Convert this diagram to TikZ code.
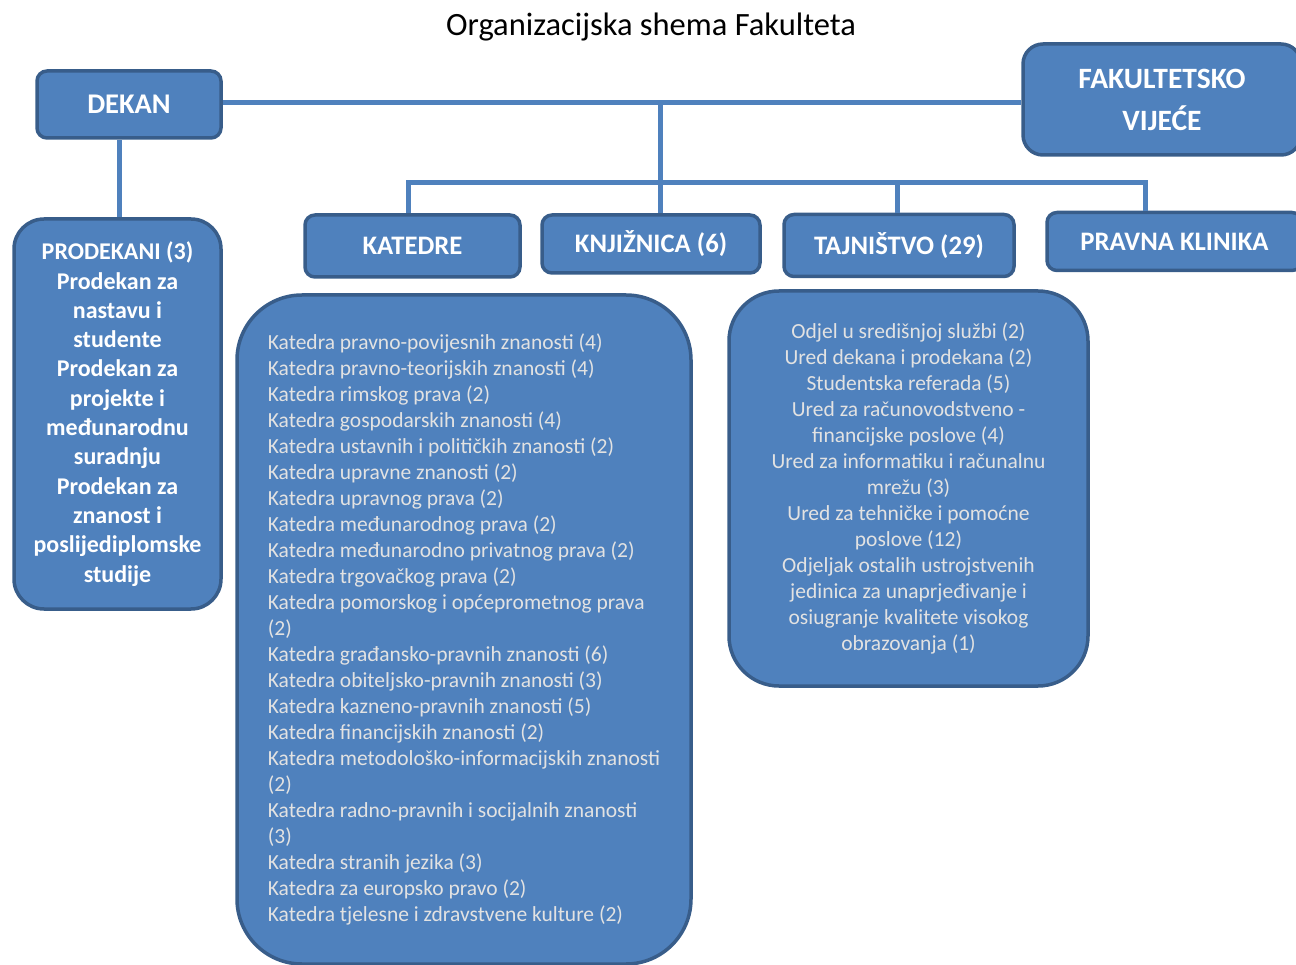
\documentclass[tikz,border=0pt]{standalone}
\usepackage{fontspec}
\setmainfont{Carlito}
\definecolor{unitblue}{HTML}{4F81BD}
\definecolor{unitedge}{HTML}{385D8A}
\definecolor{listgray}{HTML}{E2E2E2}
\begin{document}
\begin{tikzpicture}
  [x=1pt,y=-1pt,
   unit/.style=
     {draw=unitedge,fill=unitblue,line width=3.5pt,rounded corners=10pt,
      text=white,inner sep=0pt,align=center,
      font=\bfseries\fontsize{26.7}{30}\selectfont},
   listbox/.style=
     {draw=unitedge,fill=unitblue,line width=3.5pt,text=listgray,
      inner sep=0pt,font=\fontsize{21.5}{26}\selectfont},
   link/.style=
     {draw=unitblue,line width=5pt,line join=miter}
  ]
  \useasboundingbox (0,0) rectangle (1296,965);
  \node[font=\fontsize{32.5}{38}\selectfont] (title) at (651,27.5)
    {Organizacijska shema Fakulteta};
  \node[unit,minimum width=184pt,minimum height=67pt,
    font=\bfseries\fontsize{28.5}{30}\selectfont] (dekan)
    at (129,104.5) {DEKAN};
  \node[unit,minimum width=278pt,minimum height=111pt,rounded corners=20pt,
    font=\bfseries\fontsize{29.5}{42}\selectfont] (vijece)
    at (1162,99.5) {FAKULTETSKO\\VIJEĆE};
  \node[unit,minimum width=207pt,minimum height=390pt,rounded corners=30pt,
    font=\bfseries\fontsize{24}{29.3}\selectfont] (prodekani)
    at (117.5,414) {PRODEKANI (3)\\Prodekan za\\nastavu i\\studente\\
      Prodekan za\\projekte i\\međunarodnu\\suradnju\\Prodekan za\\
      znanost i\\poslijediplomske\\studije};
  \node[unit,minimum width=215pt,minimum height=62pt] (katedre)
    at (412.5,246) {KATEDRE};
  \node[unit,minimum width=218pt,minimum height=58pt] (knjiznica)
    at (651,244) {KNJIŽNICA (6)};
  \node[unit,minimum width=230pt,minimum height=62pt] (tajnistvo)
    at (899,245.5) {TAJNIŠTVO (29)};
  \node[unit,minimum width=255pt,minimum height=58pt] (klinika)
    at (1174.5,241.5) {PRAVNA KLINIKA};
  \node[listbox,minimum width=454pt,minimum height=669pt,
    rounded corners=65pt,align=left] (katlist)
    at (464,629.5) {Katedra pravno-povijesnih znanosti (4)\\
      Katedra pravno-teorijskih znanosti (4)\\
      Katedra rimskog prava (2)\\
      Katedra gospodarskih znanosti (4)\\
      Katedra ustavnih i političkih znanosti (2)\\
      Katedra upravne znanosti (2)\\
      Katedra upravnog prava (2)\\
      Katedra međunarodnog prava (2)\\
      Katedra međunarodno privatnog prava (2)\\
      Katedra trgovačkog prava (2)\\
      Katedra pomorskog i općeprometnog prava\\
      (2)\\
      Katedra građansko-pravnih znanosti (6)\\
      Katedra obiteljsko-pravnih znanosti (3)\\
      Katedra kazneno-pravnih znanosti (5)\\
      Katedra financijskih znanosti (2)\\
      Katedra metodološko-informacijskih znanosti\\
      (2)\\
      Katedra radno-pravnih i socijalnih znanosti\\
      (3)\\
      Katedra stranih jezika (3)\\
      Katedra za europsko pravo (2)\\
      Katedra tjelesne i zdravstvene kulture (2)};
  \node[listbox,minimum width=359pt,minimum height=395pt,
    rounded corners=50pt,align=center] (tajlist)
    at (908.5,488.5) {Odjel u središnjoj službi (2)\\
      Ured dekana i prodekana (2)\\
      Studentska referada (5)\\
      Ured za računovodstveno -\\
      financijske poslove (4)\\
      Ured za informatiku i računalnu\\
      mrežu (3)\\
      Ured za tehničke i pomoćne\\
      poslove (12)\\
      Odjeljak ostalih ustrojstvenih\\
      jedinica za unaprjeđivanje i\\
      osiugranje kvalitete visokog\\
      obrazovanja (1)};
  \coordinate (hub) at (660,103);
  \coordinate (barL) at (408,183);
  \coordinate (barT) at (897,183);
  \coordinate (barR) at (1145,183);
  \draw[link] (dekan.east |- hub) -- (hub) -- (hub -| vijece.west);
  \draw[link] (hub) -- (hub |- knjiznica.north);
  \draw[link] (barL |- katedre.north) -- (barL) -- (barR)
    -- (barR |- klinika.north);
  \draw[link] (barT) -- (barT |- tajnistvo.north);
  \draw[link] (prodekani.north -| 119,0) -- (dekan.south -| 119,0);
\end{tikzpicture}
\end{document}
